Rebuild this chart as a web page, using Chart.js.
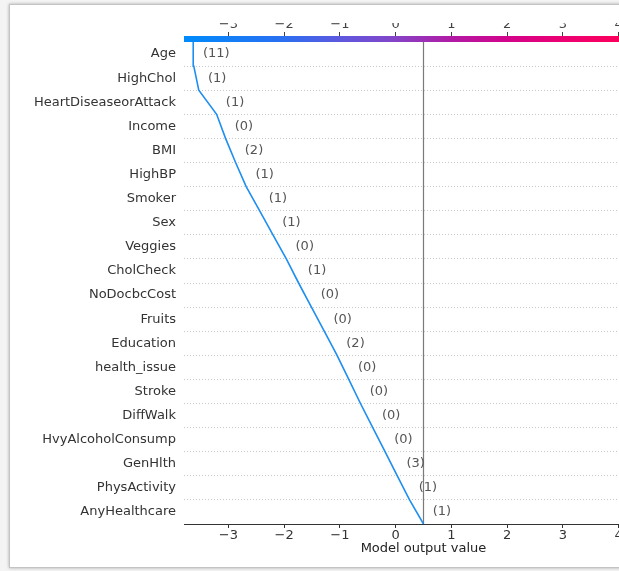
<!DOCTYPE html>
<html>
<head>
<meta charset="utf-8">
<script src="https://cdn.jsdelivr.net/npm/chart.js@4.4.1/dist/chart.umd.min.js"></script>
<style>
  html, body { margin: 0; padding: 0; width: 619px; height: 571px; overflow: hidden; background: #f4f4f4; }
  #card { position: absolute; left: 9px; top: 4px; width: 700px; height: 562px; background: #fff;
          border: 1px solid #c4c4c4; box-shadow: 0 0 3px rgba(0,0,0,0.3); }
  #clip { position: absolute; left: 0; top: 23px; width: 619px; height: 543px; overflow: hidden; }
  #holder { position: absolute; left: 0; top: -23px; width: 680px; height: 571px; }
</style>
</head>
<body>
<div id="card"></div>
<div id="clip"><div id="holder"><canvas id="c" width="680" height="571"></canvas></div></div>
<script>
// Decision plot: features listed top to bottom
const features = [
  "Age", "HighChol", "HeartDiseaseorAttack", "Income", "BMI", "HighBP", "Smoker", "Sex",
  "Veggies", "CholCheck", "NoDocbcCost", "Fruits", "Education", "health_issue", "Stroke",
  "DiffWalk", "HvyAlcoholConsump", "GenHlth", "PhysActivity", "AnyHealthcare"
];
// Observed feature values shown in parentheses
const featureValues = [11, 1, 1, 0, 2, 1, 1, 1, 0, 1, 0, 0, 2, 0, 0, 0, 0, 3, 1, 1];
// SHAP contribution of each feature (same order)
const shapValues = [
  -0.01, -0.09, -0.32, -0.16, -0.18, -0.19, -0.24, -0.24,
  -0.24, -0.22, -0.23, -0.23, -0.23, -0.21, -0.21,
  -0.22, -0.22, -0.22, -0.22, -0.25
];
const baseValue = 0.5;
const xTicks = [-3, -2, -1, 0, 1, 2, 3, 4];

const n = features.length;

// Cumulative model output, from the base value at the bottom row boundary upward
const path = [{ x: baseValue, y: 0 }];
let acc = baseValue;
for (let k = 1; k <= n; k++) {
  acc += shapValues[n - k];
  path.push({ x: acc, y: k });
}
const outAt = k => path[k].x;

// Symmetric range around the base value with a small margin
const xs = path.map(p => p.x);
const lo = Math.min(...xs, baseValue), hi = Math.max(...xs, baseValue);
const half = Math.max(baseValue - lo, hi - baseValue);
let xMin = baseValue - half, xMax = baseValue + half;
const pad = (xMax - xMin) * 0.02;
xMin -= pad; xMax += pad;

const fmt = v => (v < 0 ? "\u2212" + Math.abs(v) : String(v));
const setTicks = s => { s.ticks = xTicks.map(v => ({ value: v })); };

Chart.defaults.font.family = "'DejaVu Sans', sans-serif";
Chart.defaults.font.size = 13;

const cmapStops = [
  [0.0, "rgb(0,139,251)"], [0.2, "rgb(40,112,242)"], [0.33, "rgb(95,88,222)"],
  [0.44, "rgb(132,68,200)"], [0.56, "rgb(178,26,164)"], [0.67, "rgb(210,4,140)"],
  [0.79, "rgb(236,0,114)"], [0.9, "rgb(250,0,94)"], [1.0, "rgb(255,0,82)"]
];

const decorations = {
  id: "decorations",
  afterDatasetsDraw(chart) {
    const ctx = chart.ctx, xs = chart.scales.x, ycat = chart.scales.y;
    ctx.save();
    ctx.font = "13px 'DejaVu Sans', sans-serif";
    ctx.fillStyle = "#555";
    ctx.textAlign = "left";
    ctx.textBaseline = "middle";
    for (let i = 0; i < n; i++) {
      const kLow = n - 1 - i, kHigh = n - i;
      const xv = Math.max(outAt(kLow), outAt(kHigh)) + pad;
      ctx.fillText("(" + featureValues[i] + ")", xs.getPixelForValue(xv), ycat.getPixelForTick(i));
    }
    ctx.restore();
  },
  afterDraw(chart) {
    const ctx = chart.ctx, a = chart.chartArea;
    const g = ctx.createLinearGradient(a.left, 0, a.right, 0);
    cmapStops.forEach(([p, c]) => g.addColorStop(p, c));
    ctx.save();
    ctx.fillStyle = g;
    ctx.fillRect(a.left, a.top - 6, a.right - a.left, 6);
    ctx.restore();
  }
};

new Chart(document.getElementById("c"), {
  type: "line",
  data: {
    datasets: [
      {
        data: path, xAxisID: "x", yAxisID: "yLine",
        borderColor: "rgb(30,142,240)", borderWidth: 1.6, pointRadius: 0, tension: 0
      },
      {
        data: [{ x: baseValue, y: 0 }, { x: baseValue, y: n }], xAxisID: "x", yAxisID: "yLine",
        borderColor: "#7a7a7a", borderWidth: 1.2, pointRadius: 0
      }
    ]
  },
  options: {
    responsive: false,
    animation: false,
    devicePixelRatio: 1,
    layout: { padding: { left: 0, right: 17, top: 12, bottom: 11 } },
    plugins: { legend: { display: false }, tooltip: { enabled: false } },
    scales: {
      x: {
        type: "linear", position: "bottom", min: xMin, max: xMax,
        afterBuildTicks: setTicks,
        afterFit: s => { s.height = 36; },
        grid: { drawOnChartArea: false, drawTicks: true, tickLength: 4, tickColor: "#333" },
        border: { display: true, color: "#333", width: 1 },
        ticks: { color: "#333", padding: 0, maxRotation: 0, callback: fmt },
        title: { display: true, text: "Model output value", color: "#222", font: { size: 13 }, padding: { top: 0, bottom: 4 } }
      },
      xTop: {
        type: "linear", position: "top", min: xMin, max: xMax,
        afterBuildTicks: setTicks,
        afterFit: s => { s.height = 30; },
        grid: { drawOnChartArea: false, drawTicks: true, tickLength: 10, tickColor: "#444" },
        border: { display: false },
        ticks: { color: "#444", padding: 0, maxRotation: 0, callback: fmt }
      },
      y: {
        type: "category", labels: features, offset: true, position: "left",
        afterFit: s => { s.width = 184; },
        grid: {
          offset: true, drawTicks: false, lineWidth: 1,
          color: c => (c.type === "tick" && c.index > 0) ? "#c8c8c8" : "rgba(0,0,0,0)"
        },
        border: { display: false, dash: [1, 2] },
        ticks: { color: "#333", padding: 8, font: { size: 13 } }
      },
      yLine: { type: "linear", min: 0, max: n, display: false }
    }
  },
  plugins: [decorations]
});
</script>
</body>
</html>
